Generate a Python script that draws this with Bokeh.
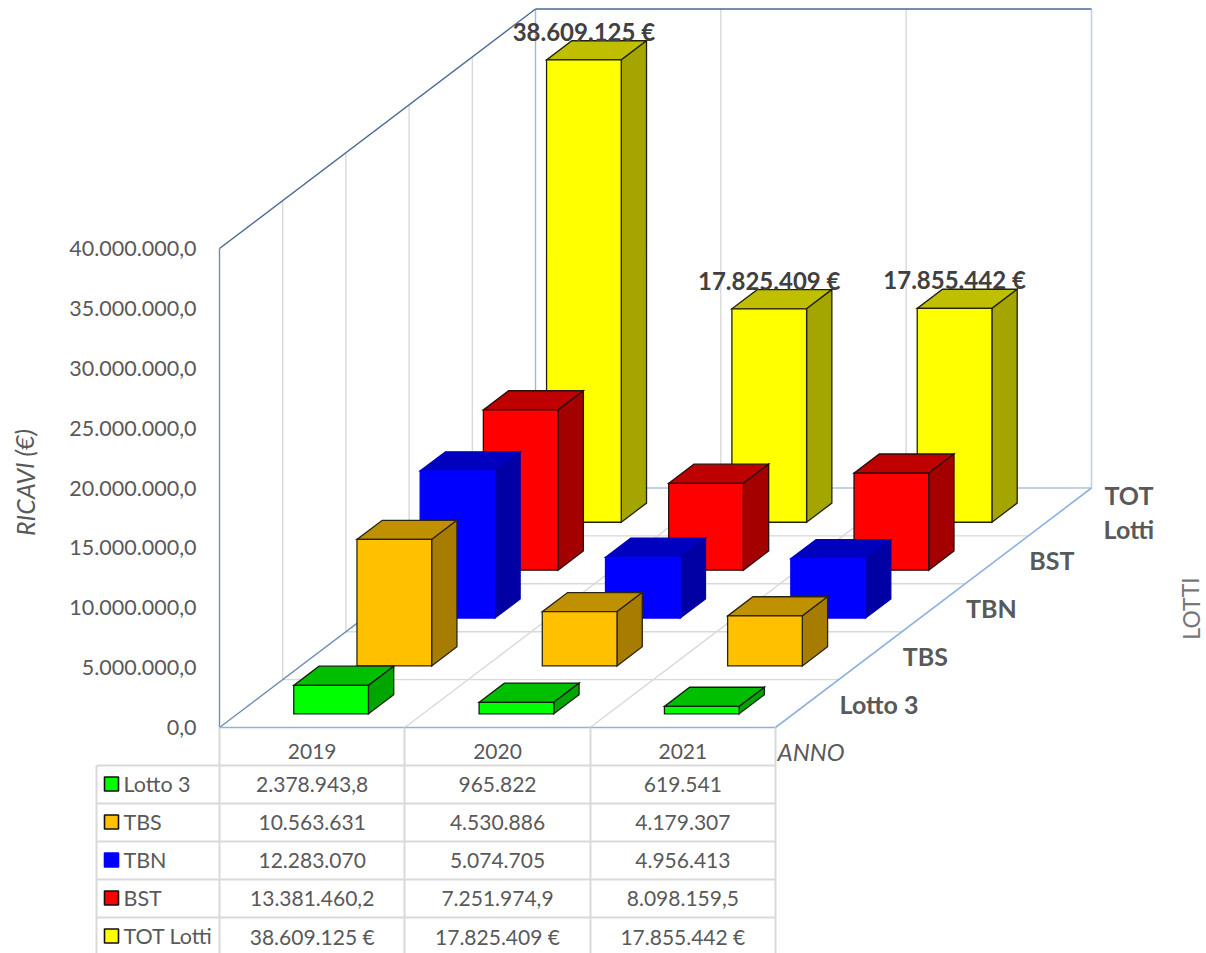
from bokeh.plotting import figure
from bokeh.models import LinearAxis, FixedTicker, Range1d
from bokeh.core.properties import value
from bokeh.embed import file_html
from bokeh.resources import INLINE

# ---------- data ----------
years = ["2019", "2020", "2021"]
series = ["Lotto 3", "TBS", "TBN", "BST", "TOT Lotti"]
lotto3 = [2378943.8, 965822, 619541]
tbs = [10563631, 4530886, 4179307]
tbn = [12283070, 5074705, 4956413]
bst = [13381460.2, 7251974.9, 8098159.5]
tot = [38609125, 17825409, 17855442]
values = [lotto3, tbs, tbn, bst, tot]
lotto3_labels = ["2.378.943,8", "965.822", "619.541"]
tbs_labels = ["10.563.631", "4.530.886", "4.179.307"]
tbn_labels = ["12.283.070", "5.074.705", "4.956.413"]
bst_labels = ["13.381.460,2", "7.251.974,9", "8.098.159,5"]
tot_labels = ["38.609.125 €", "17.825.409 €", "17.855.442 €"]
table = [lotto3_labels, tbs_labels, tbn_labels, bst_labels, tot_labels]
y_ticks = [0, 5e6, 10e6, 15e6, 20e6, 25e6, 30e6, 35e6, 40e6]
y_tick_labels = ["0,0", "5.000.000,0", "10.000.000,0", "15.000.000,0", "20.000.000,0",
                 "25.000.000,0", "30.000.000,0", "35.000.000,0", "40.000.000,0"]

# ---------- styles ----------
front = ["#00FF00", "#FFC000", "#0000FF", "#FF0000", "#FFFF00"]
top_c = ["#00BF00", "#BF9000", "#0000BF", "#BF0000", "#BFBF00"]
side = ["#00A500", "#A67D00", "#0000A5", "#A50000", "#A5A500"]
edge = ["#102010", "#2a2415", "#0000FF", "#2a0c0c", "#22220a"]
FONT = "Lato"
GRID = "#D9D9D9"

# ---------- projection: image-pixel layout ----------
PX_PER_EUR = 479 / 40e6          # vertical pixels per euro
X0, Y0 = 219, 727                # image position of the origin corner
CAT_W = 556 / 3
DX = 316 / 5                     # per depth slot
DY = 239.5 / 5
BAR_U0, BAR_W = 0.3035, 0.403
BAR_D0, BAR_D = 0.285, 0.40


def P(cat, depth, val):
    """cat slot, depth slot, euros -> plot x (px), plot y (euros)"""
    return X0 + cat * CAT_W + depth * DX, val + depth * DY / PX_PER_EUR


def img_y(py):
    return (Y0 - py) / PX_PER_EUR


W, H = 1206, 953
p = figure(width=W, height=H, output_backend="svg", toolbar_location=None,
           x_axis_type=None, y_axis_type=None,
           x_range=Range1d(0, W), y_range=Range1d(img_y(H), img_y(0)),
           min_border=0, min_border_left=0, min_border_right=0,
           min_border_top=0, min_border_bottom=0,
           outline_line_color=None, background_fill_color="white",
           border_fill_color="white")
p.grid.visible = False


def seg(a, b, color, width=1.4):
    p.line([a[0], b[0]], [a[1], b[1]], line_color=color, line_width=width)


# walls and floor grid
for d in range(1, 5):
    seg(P(0, d, 0), P(0, d, 40e6), GRID)
    seg(P(0, d, 0), P(3, d, 0), GRID)
for c in (1, 2):
    seg(P(c, 5, 0), P(c, 5, 40e6), GRID)
    seg(P(c, 0, 0), P(c, 5, 0), GRID)
seg(P(0, 5, 0), P(3, 5, 0), "#AFC3DE")
seg(P(0, 5, 0), P(0, 5, 40e6), "#A7B7CC")
seg(P(3, 5, 0), P(3, 5, 40e6), "#C6CFDC", 1.6)
seg(P(0, 0, 0), P(0, 0, 40e6), "#6F8DB5")
seg(P(0, 0, 0), P(0, 5, 0), "#6F8DB5")
seg(P(0, 0, 0), P(3, 0, 0), "#8FB1DF", 1.6)
seg(P(3, 0, 0), P(3, 5, 0), "#8FB1DF", 1.6)
seg(P(0, 0, 40e6), P(0, 5, 40e6), "#4A6A94", 1.5)
seg(P(0, 5, 40e6), P(3, 5, 40e6), "#4A6A94", 1.5)

# bars, back to front
for s in range(len(series) - 1, -1, -1):
    for c in range(len(years)):
        v = values[s][c]
        u0, u1 = c + BAR_U0, c + BAR_U0 + BAR_W
        d0, d1 = s + BAR_D0, s + BAR_D0 + BAR_D
        faces = [
            ([P(u0, d0, v), P(u1, d0, v), P(u1, d1, v), P(u0, d1, v)], top_c[s]),
            ([P(u1, d0, 0), P(u1, d1, 0), P(u1, d1, v), P(u1, d0, v)], side[s]),
            ([P(u0, d0, 0), P(u1, d0, 0), P(u1, d0, v), P(u0, d0, v)], front[s]),
        ]
        for pts, col in faces:
            lc = col if s == 2 else edge[s]
            p.patch([q[0] for q in pts], [q[1] for q in pts], fill_color=col,
                    line_color=lc, line_width=1.3, line_join="miter")


def label(x, y_img, txt, size, color="#595959", align="center", style="normal", angle=0):
    p.text([x], [img_y(y_img)], text=[txt], text_font=value(FONT),
           text_font_size=f"{size}px", text_color=color, text_align=align,
           text_baseline="middle", text_font_style=style, angle=angle)


# data labels over the TOT bars
for c in range(len(years)):
    x, y = P(c + BAR_U0 + BAR_W / 2, 4 + BAR_D0, values[4][c])
    p.text([x], [y + 28.5 / PX_PER_EUR], text=[tot_labels[c]], text_font=value(FONT),
           text_font_size="24px", text_font_style="bold", text_color="#404040",
           text_align="center", text_baseline="middle")

# depth axis labels
for s, name in enumerate(series):
    x, y = P(3, s + 0.5, 0)
    yi = Y0 - y * PX_PER_EUR
    parts = name.split(" ")
    if name == "TOT Lotti":
        label(x + 69, yi - 17, parts[0], 25, align="center", style="bold")
        label(x + 69, yi + 17, parts[1], 25, align="center", style="bold")
    else:
        label(x + 32.5, yi, name, 25, align="left", style="bold")

# axis names
label(777, 751, "ANNO", 24, align="left", style="italic")
label(24, 482, "RICAVI (€)", 25, style="italic", angle=1.5708)
label(1190, 608, "LOTTI", 23, color="#767676", angle=1.5708)

# data table
row_tops = [765, 803, 841, 879, 917]
col_x = [219, 404, 590, 775]
ROW_H = 37
BOTTOM = 953
for x_ in col_x:
    p.line([x_, x_], [img_y(Y0), img_y(BOTTOM)], line_color=GRID, line_width=2)
p.line([96, 96], [img_y(row_tops[0]), img_y(BOTTOM)], line_color=GRID, line_width=2)
for y_ in row_tops:
    p.line([96, 775], [img_y(y_), img_y(y_)], line_color=GRID, line_width=2)

for c, yr in enumerate(years):
    label(X0 + (c + 0.5) * CAT_W, 751, yr, 21)
for s, name in enumerate(series):
    yc = row_tops[s] + ROW_H / 2
    p.rect([111], [img_y(yc)], width=14, height=14 / PX_PER_EUR, fill_color=front[s],
           line_color=front[s] if s == 2 else "#111111", line_width=1.6)
    label(123, yc, name, 21.5, align="left")
    for c in range(len(years)):
        label(X0 + (c + 0.5) * CAT_W, yc, table[s][c], 21)

# value axis: a real Bokeh axis pinned on the front-left corner
yax = LinearAxis(ticker=FixedTicker(ticks=y_ticks), fixed_location=X0,
                 major_label_overrides={t: l for t, l in zip(y_ticks, y_tick_labels)},
                 axis_line_color=None, major_tick_line_color=None, minor_tick_line_color=None,
                 major_label_text_font=FONT, major_label_text_font_size="21.5px",
                 major_label_text_color="#595959", major_label_standoff=17)
p.add_layout(yax, "left")

open("out.html", "w").write(file_html(p, INLINE))
